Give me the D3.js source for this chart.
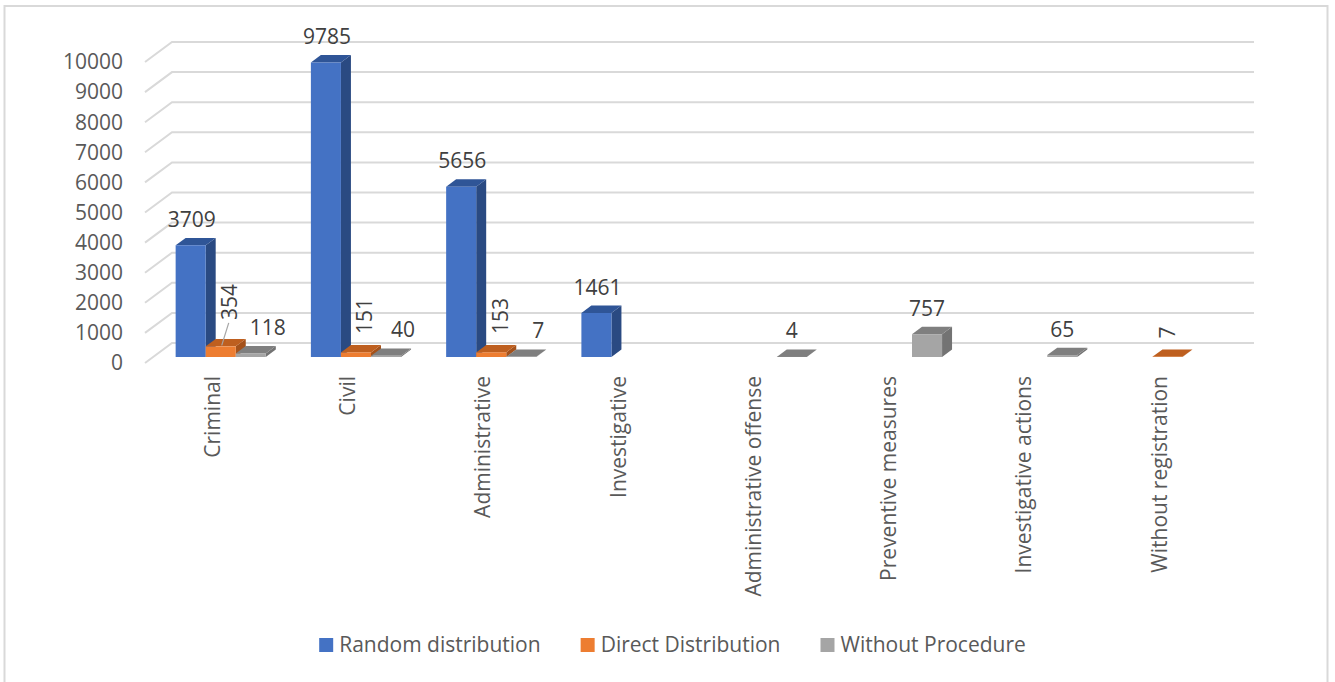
<!DOCTYPE html>
<html>
<head>
<meta charset="utf-8">
<script src="https://cdn.jsdelivr.net/npm/d3@7"></script>
<style>
  html, body { margin: 0; padding: 0; background: #ffffff; }
  svg { display: block; }
  text { font-family: "Open Sans", "Noto Sans", sans-serif; }
</style>
</head>
<body>
<svg id="chart" width="1335" height="682"></svg>
<script>
// ---- data ----
const categories = ["Criminal", "Civil", "Administrative", "Investigative",
  "Administrative offense", "Preventive measures", "Investigative actions", "Without registration"];
const seriesNames = ["Random distribution", "Direct Distribution", "Without Procedure"];
const randomDistribution = [3709, 9785, 5656, 1461, null, null, null, null];
const directDistribution = [354, 151, 153, null, null, null, null, 7];
const withoutProcedure   = [118, 40, 7, null, 4, 757, 65, null];
const yTicks = [0, 1000, 2000, 3000, 4000, 5000, 6000, 7000, 8000, 9000, 10000];

const seriesValues = [randomDistribution, directDistribution, withoutProcedure];

// face colours per series: front, top, side
const palette = [
  { front: "#4472C4", top: "#2F5597", side: "#2A4A82" },
  { front: "#ED7D31", top: "#BE5F1F", side: "#A4511A" },
  { front: "#A5A5A5", top: "#7F7F7F", side: "#737373" }
];

const FONT = 21;
const svg = d3.select("#chart");

// chart frame
svg.append("rect")
  .attr("x", 4.5).attr("y", 6).attr("width", 1323).attr("height", 700)
  .attr("fill", "none").attr("stroke", "#d9d9d9").attr("stroke-width", 2);

// ---- oblique 3D projection ----
const floorLeft = 145, floorRight = 1227;
const baseY = 363;          // value 0 at the front of the floor
const depthX = 27, depthY = 20;   // offset from front of floor to back wall

const x = d3.scaleBand().domain(categories).range([floorLeft, floorRight]);
const xSeries = d3.scaleBand().domain(seriesNames).range([0, x.bandwidth()])
  .paddingInner(0).paddingOuter(0.75);
const y = d3.scaleLinear().domain([0, 10000]).range([0, 301]);

function P(wx, v, z) {
  return [wx + z * depthX, baseY - y(v) - z * depthY];
}

// ---- back wall / side wall gridlines ----
const grid = svg.append("g");
yTicks.forEach(t => {
  const a = P(floorLeft, t, 0), b = P(floorLeft, t, 1), c = P(floorRight, t, 1);
  grid.append("path")
    .attr("d", `M${a[0]},${a[1]}L${b[0]},${b[1]}L${c[0]},${c[1]}`)
    .attr("fill", "none").attr("stroke", "#d9d9d9").attr("stroke-width", 2);
});

// y axis tick labels
svg.append("g").selectAll("text").data(yTicks).join("text")
  .attr("x", floorLeft - 22)
  .attr("y", d => P(floorLeft, d, 0)[1])
  .attr("dy", "0.35em")
  .attr("text-anchor", "end")
  .attr("font-size", FONT)
  .attr("fill", "#595959")
  .text(d => d);

// ---- bars ----
const zFront = 0.3, zBack = 0.67;
const bars = [];
categories.forEach((cat, ci) => {
  seriesNames.forEach((s, si) => {
    const v = seriesValues[si][ci];
    if (v === null) return;
    const x0 = x(cat) + xSeries(s), x1 = x0 + xSeries.bandwidth();
    const count = seriesValues.filter(arr => arr[ci] !== null).length;
    bars.push({ cat, ci, si, v, x0, x1, count });
  });
});

const poly = pts => "M" + pts.map(p => p.join(",")).join("L") + "Z";
const barG = svg.append("g");
bars.forEach(b => {
  const c = palette[b.si];
  const g = barG.append("g");
  // side face
  g.append("path").attr("fill", c.side)
    .attr("d", poly([P(b.x1, 0, zFront), P(b.x1, 0, zBack), P(b.x1, b.v, zBack), P(b.x1, b.v, zFront)]));
  // top face
  g.append("path").attr("fill", c.top)
    .attr("d", poly([P(b.x0, b.v, zFront), P(b.x1, b.v, zFront), P(b.x1, b.v, zBack), P(b.x0, b.v, zBack)]));
  // front face
  g.append("path").attr("fill", c.front)
    .attr("d", poly([P(b.x0, 0, zFront), P(b.x1, 0, zFront), P(b.x1, b.v, zFront), P(b.x0, b.v, zFront)]));
});

// ---- value labels ----
const labelG = svg.append("g").attr("font-size", FONT).attr("fill", "#404040");
// extra lift (px) for labels that would crowd their bar; drawn with a leader line
const labelLift = { "Direct Distribution|Criminal": 8 };
bars.forEach(b => {
  const xm = (b.x0 + b.x1) / 2;
  const topBack = P(xm, b.v, zBack);
  const topFront = P(xm, b.v, zFront);
  if (b.si === 1) {
    // rotated labels for the direct distribution series
    const lift = labelLift[seriesNames[b.si] + "|" + b.cat] || 0;
    const lx = topFront[0] + (b.count > 1 ? 9 : 0);
    const ly = topBack[1] - 11 - lift;
    labelG.append("text")
      .attr("transform", `translate(${lx},${ly}) rotate(-90)`)
      .attr("dy", "0.35em")
      .attr("text-anchor", "start")
      .text(b.v);
    if (lift > 0) {
      labelG.append("line")
        .attr("x1", topFront[0] + 1).attr("y1", topFront[1] - 1)
        .attr("x2", lx - 1).attr("y2", ly + 3)
        .attr("stroke", "#a6a6a6").attr("stroke-width", 1.2);
    }
  } else {
    const shift = b.si === 2 && b.count > 1 ? 17 : (b.si === 0 ? 1 : 0);
    labelG.append("text")
      .attr("x", topFront[0] + shift)
      .attr("y", topBack[1] - 11)
      .attr("text-anchor", "middle")
      .text(b.v);
  }
});

// ---- category labels ----
svg.append("g").selectAll("text").data(categories).join("text")
  .attr("transform", d => `translate(${x(d) + x.bandwidth() / 2},376) rotate(-90)`)
  .attr("dy", "0.35em")
  .attr("text-anchor", "end")
  .attr("font-size", FONT)
  .attr("fill", "#595959")
  .text(d => d);

// ---- legend ----
const legend = svg.append("g");
const items = legend.selectAll("g").data(seriesNames).join("g");
items.append("rect").attr("width", 14).attr("height", 14).attr("y", -7)
  .attr("fill", (d, i) => palette[i].front);
items.append("text").attr("x", 20).attr("dy", "0.35em")
  .attr("font-size", FONT).attr("fill", "#595959").text(d => d);
let cursor = 0;
const offsets = [];
items.each(function () {
  offsets.push(cursor);
  const w = 20 + d3.select(this).select("text").node().getComputedTextLength();
  cursor += w + 40;
});
const totalW = cursor - 40;
const legendX = 672.5 - totalW / 2;
items.attr("transform", (d, i) => `translate(${legendX + offsets[i]},645)`);
</script>
</body>
</html>
